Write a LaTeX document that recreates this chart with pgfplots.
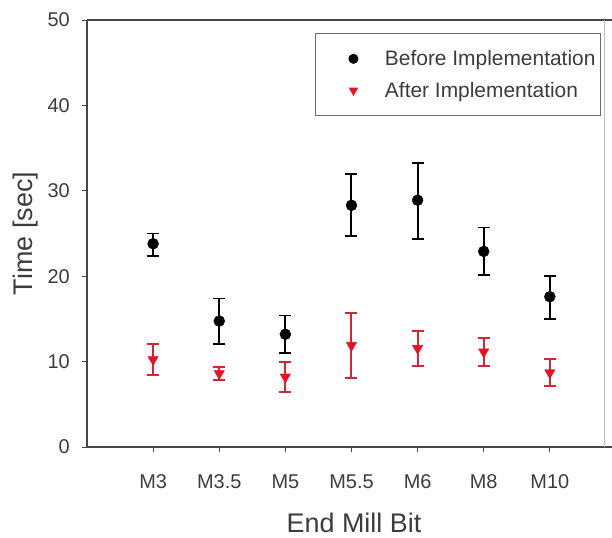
\documentclass[border=0pt]{standalone}
\usepackage{pgfplots}
\pgfplotsset{compat=1.18}
\usepackage{pgfplotstable}
\usepackage{fontspec}
\setmainfont{Liberation Sans}
\definecolor{rd}{RGB}{225,20,35}
\definecolor{rdbar}{RGB}{205,40,55}
\definecolor{fr}{RGB}{70,70,70}
\definecolor{txt}{RGB}{60,60,60}

\pgfplotstableread{
x y ep em
1 23.8 1.2 1.4
2 14.75 2.65 2.7
3 13.2 2.2 2.2
4 28.3 3.7 3.6
5 28.9 4.4 4.5
6 22.9 2.8 2.8
7 17.6 2.4 2.6
}\before
\pgfplotstableread{
x y ep em
1 10.25 1.85 1.85
2 8.6 0.8 0.75
3 8.2 1.8 1.8
4 11.9 3.75 3.8
5 11.55 2.05 2.05
6 11.15 1.65 1.65
7 8.7 1.6 1.55
}\after

\begin{document}
\begin{tikzpicture}
\path[use as bounding box] (-87bp,-91bp) rectangle (525bp,447bp);
\begin{axis}[
  scale only axis, width=525bp, height=427bp,
  xmin=0, xmax=7.94, ymin=0, ymax=50,
  axis x line*=box, axis y line*=left,
  axis line style={draw=fr, line width=1.6bp},
  tick pos=left, tick align=outside,
  major tick length=5bp,
  tick style={draw=fr, line width=0.8bp},
  xtick={1,2,3,4,5,6,7},
  xticklabels={M3,M3.5,M5,M5.5,M6,M8,M10},
  ytick={0,10,20,30,40,50},
  /pgf/number format/assume math mode=true,
  tick label style={font=\fontsize{20}{24}\selectfont, text=txt, inner sep=0pt},
  yticklabel style={anchor=east, xshift=-12bp},
  xticklabel style={anchor=base, yshift=-36bp},
  label style={font=\fontsize{27}{32}\selectfont, text=txt, inner sep=0pt},
  xlabel={End Mill Bit},
  ylabel={Time [sec]},
  xlabel style={at={(axis description cs:0.5086,-0.2014)}, anchor=base},
  ylabel style={at={(axis description cs:-0.1029,0.5)}, anchor=base},
  legend style={at={(0.979,0.9696)}, anchor=north east, draw=fr!80, line width=1bp,
    font=\fontsize{21}{25}\selectfont, text=txt, inner xsep=5bp, inner ysep=16bp,
    row sep=13bp, nodes={inner xsep=0pt, inner ysep=1bp}},
  legend cell align=left,
  legend image code/.code={\path (0bp,0bp) (63bp,0bp); \draw[#1, mark size=4.5bp] plot coordinates {(32bp,0bp)};},
  every error bar/.append style={line width=2bp},
]
\addplot[only marks, mark=*, mark size=5.5bp, color=black,
  error bars/.cd, y dir=both, y explicit,
  error bar style={line width=2bp, black},
  error mark options={rotate=90, mark size=6bp, line width=1.8bp, black}]
  table[x=x, y=y, y error plus=ep, y error minus=em] {\before};
\addlegendentry{Before Implementation}
\addplot[only marks, mark=triangle*, mark size=6bp, color=rd, mark options={rotate=180},
  error bars/.cd, y dir=both, y explicit,
  error bar style={line width=2bp, rdbar},
  error mark options={rotate=90, mark size=6bp, line width=1.8bp, rdbar}]
  table[x=x, y=y, y error plus=ep, y error minus=em] {\after};
\addlegendentry{After Implementation}
\draw[black!25, line width=1bp] (axis cs:7.83,0) -- (axis cs:7.83,50);
\end{axis}
\end{tikzpicture}
\end{document}
